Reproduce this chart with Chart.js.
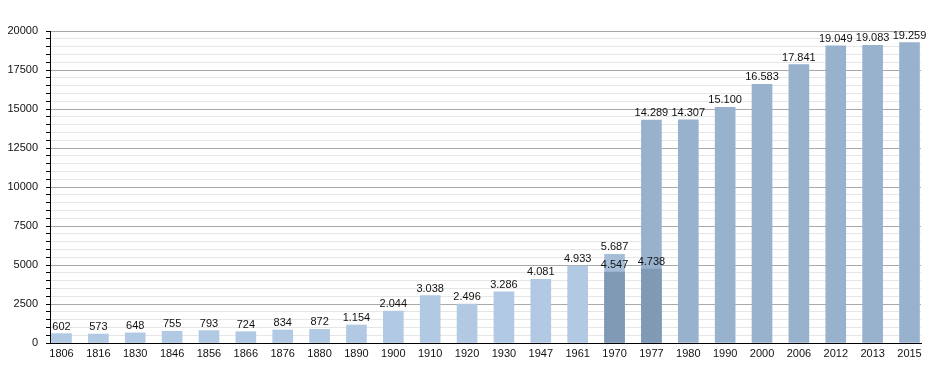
<!DOCTYPE html>
<html>
<head>
<meta charset="utf-8">
<script src="https://cdn.jsdelivr.net/npm/chart.js@4/dist/chart.umd.min.js"></script>
<style>
  html, body { margin: 0; padding: 0; background: #fff; }
  #wrap { width: 950px; height: 373px; position: relative; }
</style>
</head>
<body>
<div id="wrap"><canvas id="c" width="950" height="373"></canvas></div>
<script>
// ---- data ----
const years = ["1806","1816","1830","1846","1856","1866","1876","1880","1890","1900","1910","1920","1930","1947","1961","1970","1977","1980","1990","2000","2006","2012","2013","2015"];
const population = [602, 573, 648, 755, 793, 724, 834, 872, 1154, 2044, 3038, 2496, 3286, 4081, 4933, 5687, 14289, 14307, 15100, 16583, 17841, 19049, 19083, 19259];
const populationOverlay = [null, null, null, null, null, null, null, null, null, null, null, null, null, null, null, 4547, 4738, null, null, null, null, null, null, null];
const yTickLabels = [0, 2500, 5000, 7500, 10000, 12500, 15000, 17500, 20000];

// ---- styling ----
const COLOR_OLD = '#b1c9e3';
const COLOR_1970 = '#a6bdd8';
const COLOR_NEW = '#98b1cd';
const COLOR_OVER = '#8099b4';
const FONT = 'Liberation Sans, Arial, sans-serif';

function fmt(v) {
  const s = String(v);
  return v >= 1000 ? s.slice(0, s.length - 3) + '.' + s.slice(s.length - 3) : s;
}
function barColor(i) {
  const y = +years[i];
  if (y < 1970) return COLOR_OLD;
  if (y === 1970) return COLOR_1970;
  return COLOR_NEW;
}

const mainData = population.map((v, i) => ({ x: i, y: v }));
const overData = populationOverlay.map((v, i) => ({ x: i, y: v })).filter(p => p.y !== null);

const valueLabels = {
  id: 'valueLabels',
  afterDatasetsDraw(chart) {
    const ctx = chart.ctx;
    ctx.save();
    ctx.font = '11px ' + FONT;
    ctx.fillStyle = '#111';
    ctx.textAlign = 'center';
    ctx.textBaseline = 'alphabetic';
    chart.data.datasets.forEach((ds, di) => {
      const meta = chart.getDatasetMeta(di);
      meta.data.forEach((el, i) => {
        const v = ds.data[i].y;
        if (v == null) return;
        ctx.fillText(fmt(v), el.x, el.y - 4);
      });
    });
    ctx.restore();
  }
};

new Chart(document.getElementById('c'), {
  type: 'bar',
  data: {
    datasets: [
      {
        data: overData,
        backgroundColor: COLOR_OVER,
        barThickness: 20,
        grouped: false,
        order: 0
      },
      {
        data: mainData,
        backgroundColor: mainData.map((p, i) => barColor(i)),
        barThickness: 20,
        grouped: false,
        order: 1
      }
    ]
  },
  options: {
    responsive: false,
    animation: false,
    events: [],
    layout: { padding: { left: 0, right: 29, top: 31, bottom: 0 } },
    plugins: { legend: { display: false }, tooltip: { enabled: false } },
    scales: {
      x: {
        type: 'linear',
        offset: false,
        min: -0.312,
        max: years.length - 1 + 0.312,
        grid: { display: false, drawTicks: false, tickLength: 0 },
        border: { display: true, color: '#000', width: 1 },
        afterBuildTicks(scale) { scale.ticks = years.map((_, i) => ({ value: i })); },
        afterFit(scale) { scale.height = 30; },
        ticks: {
          autoSkip: false,
          maxRotation: 0,
          padding: 4,
          color: '#111',
          font: { family: FONT, size: 11 },
          callback: (v) => years[v] !== undefined ? years[v] : ''
        }
      },
      y: {
        min: 0,
        max: 20000,
        afterBuildTicks(scale) {
          const t = [];
          for (let v = 0; v <= 20000; v += 500) t.push({ value: v });
          scale.ticks = t;
        },
        afterFit(scale) { scale.width = 50; },
        border: { display: true, color: '#000', width: 1 },
        grid: {
          color: (c) => (c.tick && c.tick.value % 2500 === 0) ? '#a9a9a9' : '#e6e6e6',
          tickColor: '#000',
          tickLength: 4,
          lineWidth: 1
        },
        ticks: {
          autoSkip: false,
          padding: 8,
          color: '#111',
          font: { family: FONT, size: 11 },
          callback: (v) => yTickLabels.includes(v) ? String(v) : ''
        }
      }
    }
  },
  plugins: [valueLabels]
});
</script>
</body>
</html>
